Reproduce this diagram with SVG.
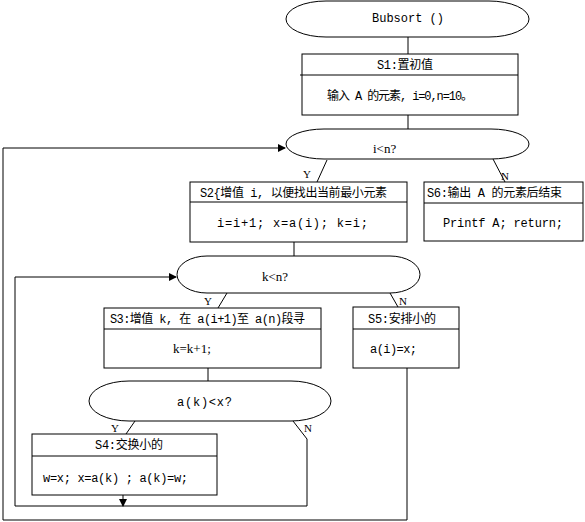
<svg xmlns="http://www.w3.org/2000/svg" width="585" height="522" viewBox="0 0 585 522">
<style>
.s{fill:none;stroke:#000;stroke-width:1}
.b{fill:#fff;stroke:#000;stroke-width:1}
.t{font-family:"Liberation Mono","Noto Sans CJK SC",monospace;font-size:12px;fill:#000}
.r{font-family:"Liberation Serif","Noto Sans CJK SC",serif;font-size:13px;fill:#000}
.l{font-family:"Liberation Serif",serif;font-size:11px;fill:#000}
</style>
<defs>
<marker id="ah" markerWidth="8" markerHeight="8" refX="7" refY="4" orient="auto" markerUnits="userSpaceOnUse">
<path d="M0,0 L8,4 L0,8 z" fill="#000"/>
</marker>
</defs>
<rect width="585" height="522" fill="#fff"/>
<g id="connectors">
<path class="s" d="M408,37 V54"/>
<path class="s" d="M408,115 V129"/>
<path class="s" d="M327,160 L317,182"/>
<path class="s" d="M493,159 L505,182"/>
<path class="s" d="M294,242 V256"/>
<path class="s" d="M407,368 V520 H3 V148 H285" marker-end="url(#ah)"/>
<path class="s" d="M227,293 L218,308"/>
<path class="s" d="M390,293 L398,307"/>
<path class="s" d="M208,368 V381"/>
<path class="s" d="M135,421 L126,434"/>
<path class="s" d="M293,421 L307,439 V506 H15 V277 H176" marker-end="url(#ah)"/>
<path class="s" d="M123,495 V506" marker-end="url(#ah)"/>
<text class="l" x="303" y="178">Y</text>
<text class="l" x="501" y="180">N</text>
<text class="l" x="204" y="305">Y</text>
<text class="l" x="399" y="305">N</text>
<text class="l" x="111" y="432">Y</text>
<text class="l" x="304" y="432">N</text>
</g>
<g id="start">
<path class="b" d="M326,1 H489 A40,18 0 0 1 489,37 H326 A40,18 0 0 1 326,1 Z"/>
<text class="t" x="408" y="22" text-anchor="middle">Bubsort ()</text>
</g>
<g id="s1">
<rect class="b" x="302" y="54" width="216" height="61"/>
<path class="s" d="M300,75 H518"/>
<text class="t" x="377" y="69" textLength="56" lengthAdjust="spacing">S1:置初值</text>
<text class="t" x="327" y="100" textLength="146" lengthAdjust="spacing">输入 A 的元素, i=0,n=10。</text>
</g>
<g id="cond-i">
<path class="b" d="M324,129 H491 A38,15 0 0 1 491,159 H324 A38,15 0 0 1 324,129 Z"/>
<text class="r" x="373" y="153">i&lt;n?</text>
</g>
<g id="s2">
<rect class="b" x="190" y="182" width="217" height="60"/>
<path class="s" d="M190,202 H407"/>
<text class="t" x="200" y="197" textLength="187" lengthAdjust="spacing">S2{增值 i, 以便找出当前最小元素</text>
<text class="t" x="217" y="227" textLength="151" lengthAdjust="spacing">i=i+1; x=a(i); k=i;</text>
</g>
<g id="s6">
<rect class="b" x="424" y="182" width="159" height="59"/>
<path class="s" d="M424,203 H583"/>
<text class="t" x="427" y="197" textLength="135" lengthAdjust="spacing">S6:输出 A 的元素后结束</text>
<text class="t" x="443" y="227" textLength="120" lengthAdjust="spacing">Printf A; return;</text>
</g>
<g id="cond-k">
<path class="b" d="M207,256 H390 A30,18.5 0 0 1 390,293 H207 A30,18.5 0 0 1 207,256 Z"/>
<text class="r" x="262" y="281">k&lt;n?</text>
</g>
<g id="s3">
<rect class="b" x="104" y="308" width="217" height="60"/>
<path class="s" d="M104,329 H321"/>
<text class="t" x="110" y="323" textLength="195" lengthAdjust="spacing">S3:增值 k, 在 a(i+1)至 a(n)段寻</text>
<text class="r" x="173" y="353">k=k+1;</text>
</g>
<g id="s5">
<rect class="b" x="353" y="307" width="106" height="61"/>
<path class="s" d="M353,329 H459"/>
<text class="t" x="368" y="323" textLength="68" lengthAdjust="spacing">S5:安排小的</text>
<text class="t" x="370" y="353" textLength="47" lengthAdjust="spacing">a(i)=x;</text>
</g>
<g id="cond-a">
<path class="b" d="M129,381 H291 A40,20 0 0 1 291,421 H129 A40,20 0 0 1 129,381 Z"/>
<text class="t" x="177" y="406" textLength="55" lengthAdjust="spacing">a(k)&lt;x?</text>
</g>
<g id="s4">
<rect class="b" x="32" y="434" width="185" height="61"/>
<path class="s" d="M32,456 H217"/>
<text class="t" x="95" y="449" textLength="68" lengthAdjust="spacing">S4:交换小的</text>
<text class="t" x="43" y="482" textLength="145" lengthAdjust="spacing">w=x; x=a(k) ; a(k)=w;</text>
</g>
</svg>
